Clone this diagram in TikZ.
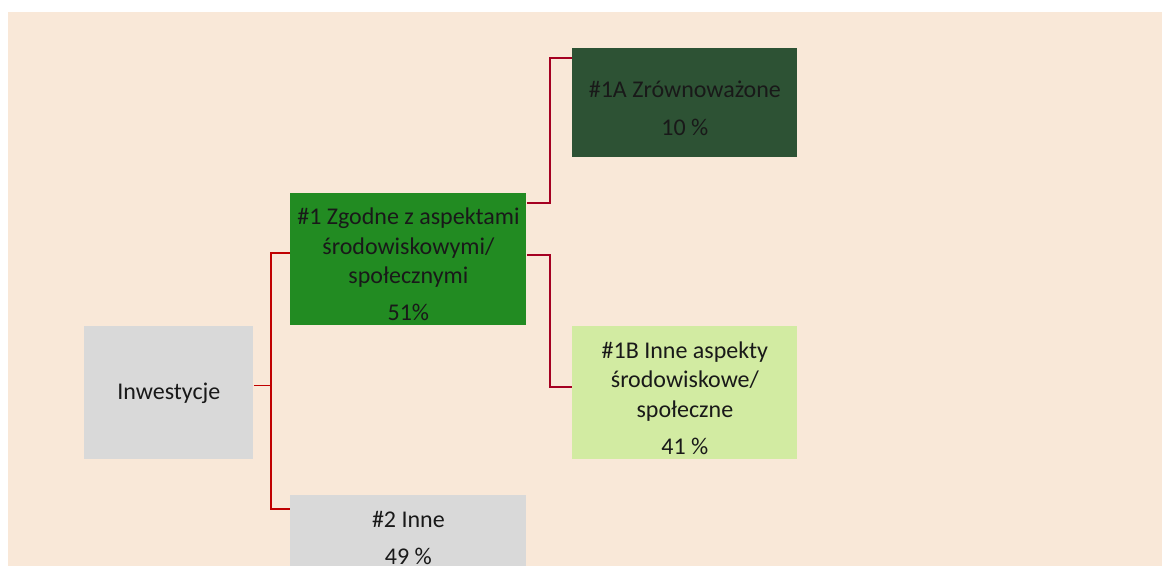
\documentclass[tikz,border=0pt]{standalone}
\usepackage{fontspec}
\setmainfont{Carlito}
\usepackage{tikz}
\usetikzlibrary{positioning}
\definecolor{tlo}{HTML}{F9E8D8}
\definecolor{szary}{HTML}{D9D9D9}
\definecolor{zielony}{HTML}{228B22}
\definecolor{ciemny}{HTML}{2D5234}
\definecolor{jasny}{HTML}{D2EBA2}
\definecolor{czerwony}{HTML}{C00000}
\definecolor{bordo}{HTML}{A50021}
\newcommand{\gora}{\rule{0pt}{13.5pt}}

\begin{document}
\begin{tikzpicture}[x=0.5pt,y=-0.5pt,
    box node/.style={rectangle,anchor=north west,inner sep=0pt,align=center,
      text=black!90,font=\fontsize{12}{14.75}\selectfont},
    fork line/.style={-,draw=czerwony,line width=1pt},
    sub line/.style={-,draw=bordo,line width=1.4pt}]
  \useasboundingbox (0,0) rectangle (1162,566);
  \fill[tlo] (8,12) rectangle (1162,566);
   \begin{scope}
     \node[box node,fill=szary,minimum width=84.5pt,minimum height=66.5pt] (inv) at (84,326) {Inwestycje};
     \node[box node,fill=zielony,minimum width=118pt,minimum height=66pt] (z1) at (290,193)
       {\gora\#1 Zgodne z aspektami\\ środowiskowymi/\\ społecznymi\\[3.75pt] 51\%};
     \node[box node,fill=szary,minimum width=118pt,minimum height=37pt] (z2) at (290,495)
       {\gora\#2 Inne\\[3.75pt] 49 \%};
     \node[box node,fill=ciemny,minimum width=112.5pt,minimum height=54.5pt] (z1a) at (572,48)
       {\gora\#1A Zrównoważone\\[4.5pt] 10 \%};
     \node[box node,fill=jasny,minimum width=112.5pt,minimum height=66.5pt] (z1b) at (572,326)
       {\gora\#1B Inne aspekty\\ środowiskowe/\\ społeczne\\[3.75pt] 41 \%};
      \coordinate (fork) at (271,386);
      \coordinate (split) at (550,230);
      % Inwestycje -> #1 / #2
      \draw[fork line,line width=0.5pt] (inv.east |- fork) -- (fork);
      \draw[fork line] (z1.west |- 0,253) -| (fork);
      \draw[fork line] (fork) |- (z2.west |- 0,509);
      % #1 -> #1A / #1B
      \draw[sub line] (z1.east |- 0,203) -| (split |- 0,203) |- (z1a.west |- 0,58);
      \draw[sub line] (z1.east |- 0,255) -| (split |- 0,255) |- (z1b.west |- 0,387);
    \end{scope}
  \end{tikzpicture}
\end{document}
